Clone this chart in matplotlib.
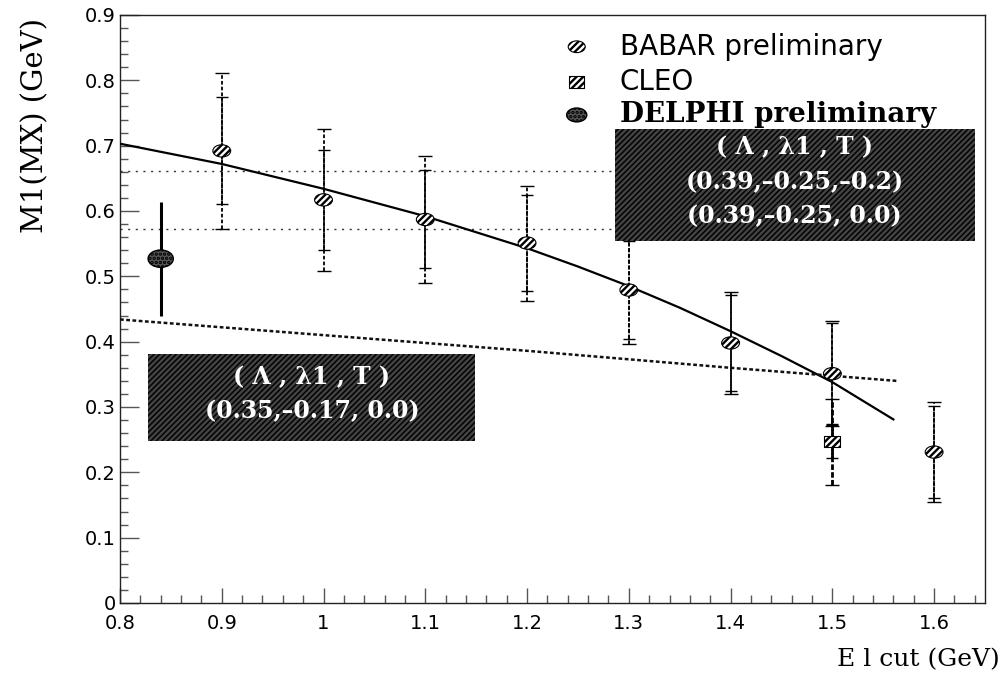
import numpy as np
import matplotlib
matplotlib.use('Agg')
import matplotlib.pyplot as plt
from matplotlib.path import Path
from matplotlib.transforms import Affine2D
from matplotlib.patches import Rectangle
from matplotlib.ticker import FixedLocator, MultipleLocator

# ---------------- data ----------------
babar_x = [0.9, 1.0, 1.1, 1.2, 1.3, 1.4, 1.5, 1.6]
babar_y = [0.692, 0.617, 0.587, 0.551, 0.479, 0.398, 0.351, 0.231]
babar_stat = [0.082, 0.077, 0.075, 0.074, 0.075, 0.073, 0.077, 0.070]
babar_tot = [0.119, 0.109, 0.097, 0.088, 0.082, 0.078, 0.080, 0.076]

cleo_x = [1.5]
cleo_y = [0.247]
cleo_stat = [0.025]
cleo_tot = [0.066]

delphi_x = [0.84]
delphi_y = [0.527]
delphi_err = [0.087]

# HQET prediction, (0.39,-0.25,T) curve
fit1_x = [0.80, 0.90, 1.00, 1.10, 1.20, 1.25, 1.30, 1.35, 1.40, 1.45, 1.50, 1.56]
fit1_y = [0.703, 0.672, 0.634, 0.592, 0.543, 0.515, 0.485, 0.452, 0.416, 0.378, 0.338, 0.281]
# (0.35,-0.17,0.0) curve
fit2_x = [0.80, 1.00, 1.20, 1.40, 1.563]
fit2_y = [0.434, 0.410, 0.386, 0.360, 0.340]

hline_y = [0.661, 0.573]

x_ticks = [0.8, 0.9, 1.0, 1.1, 1.2, 1.3, 1.4, 1.5, 1.6]
x_labels = ['0.8', '0.9', '1', '1.1', '1.2', '1.3', '1.4', '1.5', '1.6']
y_ticks = [0, 0.1, 0.2, 0.3, 0.4, 0.5, 0.6, 0.7, 0.8, 0.9]
y_labels = ['0', '0.1', '0.2', '0.3', '0.4', '0.5', '0.6', '0.7', '0.8', '0.9']

box1 = dict(x0=1.286, x1=1.640, y0=0.554, y1=0.725,
            lines=['( \u039b , \u03bb1 , T )', '(0.39,\u20130.25,\u20130.2)', '(0.39,\u20130.25, 0.0)'],
            line_y=[0.697, 0.644, 0.592])
box2 = dict(x0=0.828, x1=1.149, y0=0.248, y1=0.381,
            lines=['( \u039b , \u03bb1 , T )', '(0.35,\u20130.17, 0.0)'],
            line_y=[0.345, 0.293])

legend_labels = ['BABAR preliminary', 'CLEO', 'DELPHI preliminary']

# ---------------- figure ----------------
plt.rcParams['hatch.linewidth'] = 1.7
fig = plt.figure(figsize=(10.08, 6.76), dpi=100)
ax = fig.add_axes([120/1008, 1-603/676, (985-120)/1008, (603-15)/676])
ax.set_xlim(0.8, 1.65)
ax.set_ylim(0, 0.9)

# markers
circ = Path.unit_circle()
ellipse = Affine2D().scale(1.45, 1.0).transform_path(circ)
rect = Path([(-1.35, -1), (1.35, -1), (1.35, 1), (-1.35, 1), (-1.35, -1)],
            [Path.MOVETO, Path.LINETO, Path.LINETO, Path.LINETO, Path.CLOSEPOLY])

def errbars(x, y, err, cap, lw, ls, color='black', capcolor='#555555'):
    eb = ax.errorbar(x, y, yerr=err, fmt='none', ecolor=color, elinewidth=lw,
                     capsize=cap, capthick=1.0, zorder=4)
    for c in eb[1]:
        c.set_color(capcolor)
    for b in eb[2]:
        b.set_linestyle(ls)
    return eb

# horizontal dotted guide lines to the box
for hy in hline_y:
    ax.plot([0.8, box1['x0']], [hy, hy], color='#333333', lw=1.0,
            linestyle=(0, (1.5, 4)), zorder=2)

# curves
ax.plot(fit1_x, fit1_y, color='black', lw=1.6, zorder=3)
ax.plot(fit2_x, fit2_y, color='#111111', lw=1.8, linestyle=(0, (1.5, 1)), zorder=3)

# error bars
errbars(babar_x, babar_y, babar_tot, 5, 1.3, (0, (2, 1.2)))
errbars(babar_x, babar_y, babar_stat, 4.5, 1.3, (0, (2, 1.2)))
errbars(cleo_x, cleo_y, cleo_tot, 5, 2.0, (0, (2, 0.8)))
errbars(cleo_x, cleo_y, cleo_stat, 4.5, 2.0, (0, (2, 0.8)))
ax.errorbar(delphi_x, delphi_y, yerr=delphi_err, fmt='none', ecolor='black',
            elinewidth=2.2, capsize=0, zorder=4)

# points
ax.scatter(babar_x, babar_y, s=165, marker=ellipse, facecolor='white',
           edgecolor='black', hatch='/////', linewidths=0.8, zorder=6)
ax.scatter(cleo_x, cleo_y, s=130, marker=rect, facecolor='white',
           edgecolor='black', hatch='/////', linewidths=0.8, zorder=6)
ax.scatter(delphi_x, delphi_y, s=330, marker=ellipse, facecolor='#555555',
           edgecolor='black', hatch='....', linewidths=1.0, zorder=6)

# parameter boxes
for b in (box1, box2):
    r = Rectangle((b['x0'], b['y0']), b['x1']-b['x0'], b['y1']-b['y0'],
                  facecolor='#030303', edgecolor='#444444', hatch='//////',
                  lw=0, zorder=7)
    ax.add_patch(r)
    xc = 0.5*(b['x0']+b['x1'])
    for txt, ty in zip(b['lines'], b['line_y']):
        ax.text(xc, ty, txt, color='white', ha='center', va='center',
                family='DejaVu Serif', fontweight='bold', fontsize=17, zorder=8)

# legend (manual, ROOT style)
leg_y = [0.946, 0.886, 0.830]
ax.scatter([0.528], [leg_y[0]], s=150, marker=ellipse, facecolor='white',
           edgecolor='black', hatch='/////', linewidths=0.8, transform=ax.transAxes,
           zorder=9, clip_on=False)
ax.scatter([0.528], [leg_y[1]], s=120, marker=rect, facecolor='white',
           edgecolor='black', hatch='/////', linewidths=0.8, transform=ax.transAxes,
           zorder=9, clip_on=False)
ax.scatter([0.528], [leg_y[2]], s=210, marker=ellipse, facecolor='#555555',
           edgecolor='black', hatch='....', linewidths=1.0, transform=ax.transAxes,
           zorder=9, clip_on=False)
ax.text(0.578, leg_y[0], legend_labels[0], transform=ax.transAxes, va='center',
        ha='left', family='DejaVu Sans', fontsize=20)
ax.text(0.578, leg_y[1], legend_labels[1], transform=ax.transAxes, va='center',
        ha='left', family='DejaVu Sans', fontsize=20)
ax.text(0.578, leg_y[2], legend_labels[2], transform=ax.transAxes, va='center',
        ha='left', family='DejaVu Serif', fontweight='bold', fontsize=20)

# axes styling
for s in ax.spines.values():
    s.set_linestyle((0, (2, 1)))
    s.set_linewidth(1.0)
    s.set_color('#222222')
ax.xaxis.set_major_locator(FixedLocator(x_ticks))
ax.set_xticklabels(x_labels)
ax.yaxis.set_major_locator(FixedLocator(y_ticks))
ax.set_yticklabels(y_labels)
ax.xaxis.set_minor_locator(MultipleLocator(0.02))
ax.yaxis.set_minor_locator(MultipleLocator(0.02))
ax.tick_params(which='both', direction='in', color='#555555', width=1.0,
               top=False, right=False)
ax.tick_params(which='major', length=11)
ax.tick_params(which='minor', length=6)
ax.tick_params(axis='y', which='major', length=14)
for lab in ax.get_xticklabels() + ax.get_yticklabels():
    lab.set_family('DejaVu Sans')
    lab.set_fontsize(14)
ax.tick_params(axis='x', pad=8)
ax.tick_params(axis='y', pad=3)

fig.text(35/1008, 1-18/676, 'M1(MX) (GeV)', rotation=90, ha='center', va='top',
         family='DejaVu Serif', fontsize=21)
fig.text(1000/1008, 1-660/676, 'E l cut (GeV)', ha='right', va='center',
         family='DejaVu Serif', fontsize=18)

fig.savefig('out.png', dpi=100)
